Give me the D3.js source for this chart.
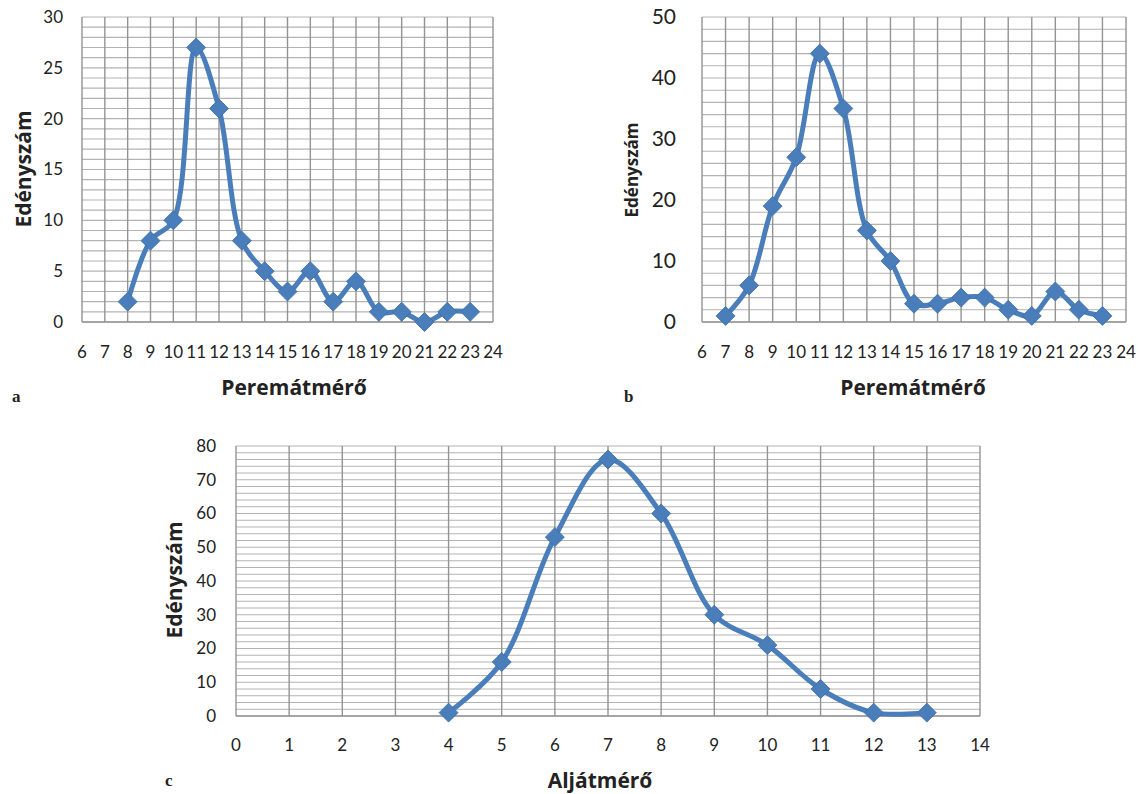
<!DOCTYPE html>
<html><head><meta charset="utf-8">
<script src="https://cdn.jsdelivr.net/npm/d3@7"></script>
<style>body{margin:0;background:#fff}svg{display:block}</style>
</head><body>
<svg id="chart" width="1139" height="794"></svg>
<script>
// ---- data ----
const aX = [8,9,10,11,12,13,14,15,16,17,18,19,20,21,22,23];
const aY = [2,8,10,27,21,8,5,3,5,2,4,1,1,0,1,1];
const bX = [7,8,9,10,11,12,13,14,15,16,17,18,19,20,21,22,23];
const bY = [1,6,19,27,44,35,15,10,3,3,4,4,2,1,5,2,1];
const cX = [4,5,6,7,8,9,10,11,12,13];
const cY = [1,16,53,76,60,30,21,8,1,1];
const aXTicks = d3.range(6,25);
const aYTicks = [0,5,10,15,20,25,30];
const bXTicks = d3.range(6,25);
const bYTicks = [0,10,20,30,40,50];
const cXTicks = d3.range(0,15);
const cYTicks = [0,10,20,30,40,50,60,70,80];
const yTitle = "Edényszám";
const xTitleAB = "Peremátmérő";
const xTitleC = "Aljátmérő";

const svg = d3.select("#chart");
const FONT = "Lato, 'Open Sans', sans-serif";
const TFONT = "'Open Sans', Lato, sans-serif";
const BLUE = "#4a7ebb";

function drawChart(o){
  const g = svg.append("g");
  const x = d3.scaleLinear().domain(o.xDomain).range([o.left,o.right]);
  const y = d3.scaleLinear().domain(o.yDomain).range([o.bottom,o.top]);
  const hLines = d3.range(o.yDomain[0], o.yDomain[1]+0.001, o.minorStep);
  g.append("g").selectAll("line").data(hLines).join("line")
    .attr("x1",o.left).attr("x2",o.right)
    .attr("y1",d=>y(d)).attr("y2",d=>y(d))
    .attr("stroke","#b3b3b3").attr("stroke-width",1.1);
  g.append("g").selectAll("line").data(o.xTicks).join("line")
    .attr("x1",d=>x(d)).attr("x2",d=>x(d))
    .attr("y1",o.top).attr("y2",o.bottom)
    .attr("stroke","#939393").attr("stroke-width",1.4);
  g.append("line").attr("x1",o.left).attr("x2",o.right).attr("y1",o.bottom).attr("y2",o.bottom)
    .attr("stroke","#939393").attr("stroke-width",1.4);
  g.append("g").selectAll("text").data(o.yTicks).join("text")
    .attr("x",o.yLabelX).attr("y",d=>y(d)).attr("dy","0.35em")
    .attr("text-anchor","end").attr("font-family",FONT).attr("font-size",o.yFont)
    .attr("fill","#222").text(d=>d);
  g.append("g").selectAll("text").data(o.xTicks).join("text")
    .attr("x",d=>x(d)).attr("y",o.xLabelY)
    .attr("text-anchor","middle").attr("font-family",FONT).attr("font-size",o.xFont)
    .attr("fill","#222").text(d=>d);
  const pts = o.xs.map((v,i)=>[v,o.ys[i]]);
  const line = d3.line().x(d=>x(d[0])).y(d=>y(d[1])).curve(d3.curveCatmullRom.alpha(0.5));
  g.append("path").datum(pts).attr("d",line).attr("fill","none")
    .attr("stroke",BLUE).attr("stroke-width",5).attr("stroke-linejoin","round");
  const sym = d3.symbol(d3.symbolSquare, 180);
  g.append("g").selectAll("path").data(pts).join("path")
    .attr("d",sym).attr("transform",d=>`translate(${x(d[0])},${y(d[1])}) rotate(45)`)
    .attr("fill",BLUE).attr("stroke","#3f6fa8").attr("stroke-width",0.8);
  g.append("text").attr("transform",`translate(${o.yTitleX},${o.yTitleY}) rotate(-90)`)
    .attr("text-anchor","middle").attr("font-family",TFONT).attr("font-weight","bold")
    .attr("font-size",o.yTitleFont).attr("fill","#222").text(yTitle);
  g.append("text").attr("x",o.xTitleX).attr("y",o.xTitleY)
    .attr("text-anchor","middle").attr("font-family",TFONT).attr("font-weight","bold")
    .attr("font-size",o.xTitleFont).attr("fill","#222").text(o.xTitle);
  g.append("text").attr("x",o.letterX).attr("y",o.letterY)
    .attr("font-family","'Liberation Serif', serif").attr("font-weight","bold")
    .attr("font-size",17).attr("fill","#222").text(o.letter);
}

drawChart({xs:aX, ys:aY, xDomain:[6,24], yDomain:[0,30], xTicks:aXTicks, yTicks:aYTicks, minorStep:1,
  left:82, right:493, top:17, bottom:322, yLabelX:63, yFont:17, xLabelY:358, xFont:17,
  yTitleX:31, yTitleY:169, yTitleFont:21, xTitle:xTitleAB, xTitleX:294, xTitleY:395, xTitleFont:21,
  letter:"a", letterX:12, letterY:402});
drawChart({xs:bX, ys:bY, xDomain:[6,24], yDomain:[0,50], xTicks:bXTicks, yTicks:bYTicks, minorStep:2,
  left:702, right:1126, top:17, bottom:322, yLabelX:676, yFont:21, xLabelY:358, xFont:17,
  yTitleX:638, yTitleY:170, yTitleFont:17, xTitle:xTitleAB, xTitleX:913, xTitleY:395, xTitleFont:21,
  letter:"b", letterX:624, letterY:402});
drawChart({xs:cX, ys:cY, xDomain:[0,14], yDomain:[0,80], xTicks:cXTicks, yTicks:cYTicks, minorStep:2,
  left:236, right:980, top:446, bottom:716, yLabelX:216, yFont:17, xLabelY:751, xFont:17,
  yTitleX:182, yTitleY:580, yTitleFont:21, xTitle:xTitleC, xTitleX:600, xTitleY:788, xTitleFont:21,
  letter:"c", letterX:165, letterY:786});
</script>
</body></html>
